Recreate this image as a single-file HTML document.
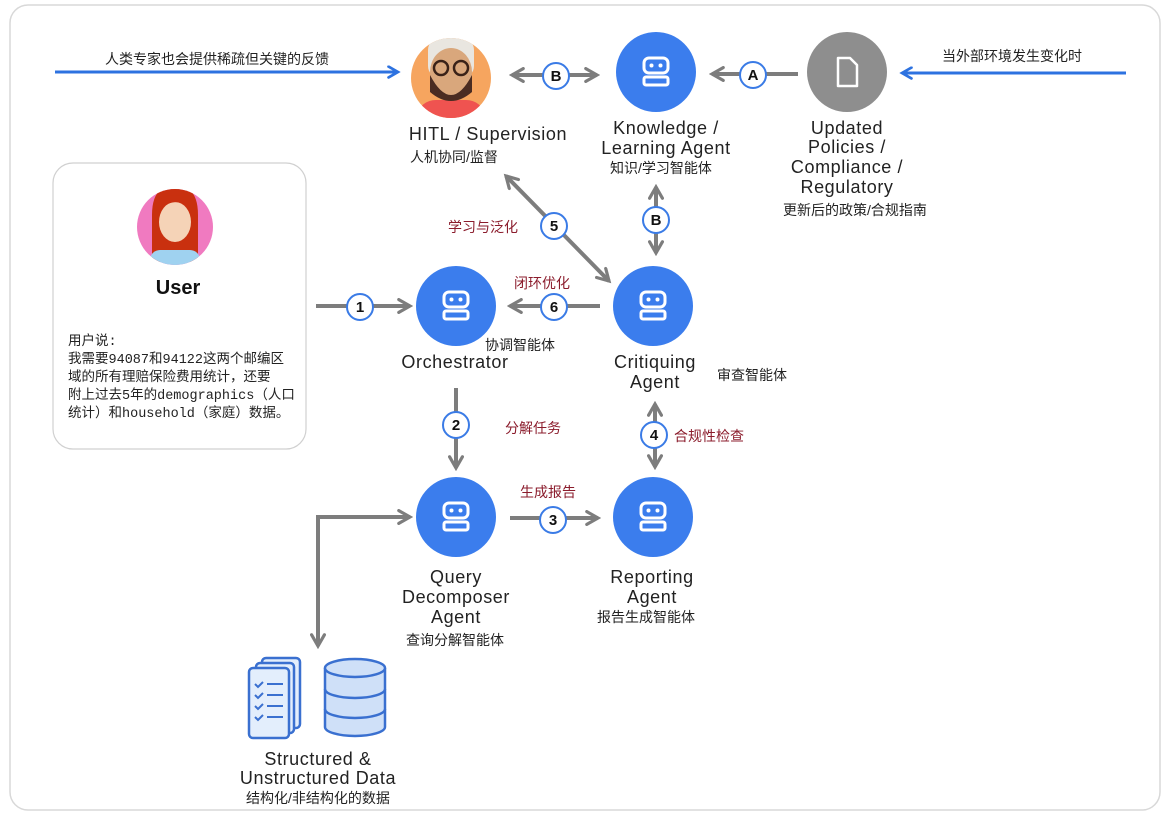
<!DOCTYPE html>
<html><head><meta charset="utf-8"><style>
html,body{margin:0;padding:0;background:#fff;}
svg{display:block;}
text{font-family:"Liberation Sans","Noto Sans CJK SC",sans-serif;}
.en{font-size:18px;fill:#222;letter-spacing:0.6px;}
.cn{font-size:14px;fill:#222;}
.red{font-size:14px;fill:#8b1c2c;}
.num{font-size:15px;fill:#111;font-weight:bold;text-anchor:middle;}
.mono{font-family:'Liberation Mono','Noto Sans CJK SC',monospace;font-size:13.5px;fill:#222;}
</style></head><body>
<svg width="1170" height="814" viewBox="0 0 1170 814">
<defs>
<marker id="ag" viewBox="0 0 10 10" refX="8" refY="5" markerWidth="4" markerHeight="4" orient="auto-start-reverse"><path d="M1,1 L8,5 L1,9" fill="none" stroke="#7d7d7d" stroke-width="2" stroke-linecap="round"/></marker>
<marker id="ab" viewBox="0 0 10 10" refX="8" refY="5" markerWidth="4.5" markerHeight="4.5" orient="auto-start-reverse"><path d="M1,1 L8,5 L1,9" fill="none" stroke="#2d72e0" stroke-width="2" stroke-linecap="round"/></marker>
<g id="bot"><rect x="-12" y="-14" width="24" height="15" rx="5" fill="none" stroke="#fff" stroke-width="3"/><circle cx="-4.5" cy="-6.5" r="2" fill="#fff"/><circle cx="4.5" cy="-6.5" r="2" fill="#fff"/><rect x="-12" y="5" width="24" height="8" rx="2" fill="none" stroke="#fff" stroke-width="3"/></g>
</defs>
<rect x="10" y="5" width="1150" height="805" rx="18" fill="#fff" stroke="#d8d8d8" stroke-width="1.5"/>

<line x1="55" y1="72" x2="398" y2="72" stroke="#2d72e0" stroke-width="3" marker-end="url(#ab)"/>
<text class="cn" x="217" y="64" text-anchor="middle" font-size="15">人类专家也会提供稀疏但关键的反馈</text>
<line x1="1126" y1="73" x2="902" y2="73" stroke="#2d72e0" stroke-width="3" marker-end="url(#ab)"/>
<text class="cn" x="1012" y="61" text-anchor="middle" font-size="15">当外部环境发生变化时</text>

<g stroke="#7d7d7d" stroke-width="4" fill="none">
<line x1="512" y1="75" x2="597" y2="75" marker-start="url(#ag)" marker-end="url(#ag)"/>
<line x1="798" y1="74" x2="712" y2="74" marker-end="url(#ag)"/>
<line x1="656" y1="187" x2="656" y2="253" marker-start="url(#ag)" marker-end="url(#ag)"/>
<line x1="506" y1="176" x2="609" y2="281" marker-start="url(#ag)" marker-end="url(#ag)"/>
<line x1="316" y1="306" x2="410" y2="306" marker-end="url(#ag)"/>
<line x1="600" y1="306" x2="510" y2="306" marker-end="url(#ag)"/>
<line x1="456" y1="388" x2="456" y2="468" marker-end="url(#ag)"/>
<line x1="510" y1="518" x2="598" y2="518" marker-end="url(#ag)"/>
<line x1="655" y1="404" x2="655" y2="467" marker-start="url(#ag)" marker-end="url(#ag)"/>
<polyline points="318,646 318,517 410,517" marker-start="url(#ag)" marker-end="url(#ag)"/>
</g>

<g fill="#fff" stroke="#3a7be6" stroke-width="2">
<circle cx="556" cy="76" r="13"/><circle cx="753" cy="75" r="13"/><circle cx="656" cy="220" r="13"/>
<circle cx="554" cy="226" r="13"/><circle cx="360" cy="307" r="13"/><circle cx="554" cy="307" r="13"/>
<circle cx="456" cy="425" r="13"/><circle cx="553" cy="520" r="13"/><circle cx="654" cy="435" r="13"/>
</g>
<text class="num" x="556" y="81">B</text><text class="num" x="753" y="80">A</text><text class="num" x="656" y="225">B</text>
<text class="num" x="554" y="231">5</text><text class="num" x="360" y="312">1</text><text class="num" x="554" y="312">6</text>
<text class="num" x="456" y="430">2</text><text class="num" x="553" y="525">3</text><text class="num" x="654" y="440">4</text>

<text class="red" x="483" y="232" text-anchor="middle">学习与泛化</text>
<text class="red" x="542" y="288" text-anchor="middle">闭环优化</text>
<text class="red" x="505" y="433">分解任务</text>
<text class="red" x="548" y="497" text-anchor="middle">生成报告</text>
<text class="red" x="674" y="441">合规性检查</text>

<circle cx="451" cy="78" r="40" fill="#f6a55f"/>
<clipPath id="hc"><circle cx="451" cy="78" r="40"/></clipPath>
<g clip-path="url(#hc)">
<rect x="418" y="100" width="66" height="30" rx="18" fill="#ef5350"/>
<rect x="428" y="38" width="46" height="40" rx="12" fill="#e9e6e0"/>
<ellipse cx="451" cy="72" rx="21" ry="24" fill="#d9a77c"/>
<path d="M430,75 Q451,115 472,75 L472,92 Q451,110 430,92Z" fill="#4a2c22"/>
<circle cx="441" cy="68" r="7" fill="none" stroke="#3a2218" stroke-width="2.5"/>
<circle cx="461" cy="68" r="7" fill="none" stroke="#3a2218" stroke-width="2.5"/>
</g>
<circle cx="656" cy="72" r="40" fill="#3b7ded"/><use href="#bot" x="656" y="72"/>
<circle cx="847" cy="72" r="40" fill="#8e8e8e"/>
<path d="M838,58 h12 l7,7 v21 h-19z" fill="none" stroke="#fff" stroke-width="2.5" stroke-linejoin="round"/>

<text class="en" x="488" y="140" text-anchor="middle">HITL / Supervision</text>
<text class="cn" x="410" y="162">人机协同/监督</text>
<text class="en" x="666" y="134" text-anchor="middle">Knowledge /</text>
<text class="en" x="666" y="154" text-anchor="middle">Learning Agent</text>
<text class="cn" x="610" y="173">知识/学习智能体</text>
<text class="en" x="847" y="134" text-anchor="middle">Updated</text>
<text class="en" x="847" y="153" text-anchor="middle">Policies /</text>
<text class="en" x="847" y="173" text-anchor="middle">Compliance /</text>
<text class="en" x="847" y="193" text-anchor="middle">Regulatory</text>
<text class="cn" x="855" y="215" text-anchor="middle">更新后的政策/合规指南</text>

<rect x="53" y="163" width="253" height="286" rx="20" fill="#fff" stroke="#d0d0d0" stroke-width="1.2"/>
<circle cx="175" cy="227" r="38" fill="#f07ac0"/>
<clipPath id="uc"><circle cx="175" cy="227" r="38"/></clipPath>
<g clip-path="url(#uc)">
<path d="M152,262 V215 Q152,185 175,185 Q198,185 198,215 V262Z" fill="#c9300f"/>
<rect x="150" y="250" width="50" height="20" rx="10" fill="#9fd2f0"/>
<ellipse cx="175" cy="222" rx="16" ry="20" fill="#f5d3b7"/>
<path d="M159,212 Q170,196 191,206 L191,200 Q175,190 159,200Z" fill="#c9300f"/>
</g>
<text x="178" y="294" text-anchor="middle" font-size="20" font-weight="bold" fill="#111">User</text>
<text class="mono" x="68" y="345">用户说:</text>
<text class="mono" x="68" y="363">我需要94087和94122这两个邮编区</text>
<text class="mono" x="68" y="381">域的所有理赔保险费用统计，还要</text>
<text class="mono" x="68" y="399">附上过去5年的demographics（人口</text>
<text class="mono" x="68" y="417">统计）和household（家庭）数据。</text>

<circle cx="456" cy="306" r="40" fill="#3b7ded"/><use href="#bot" x="456" y="306"/>
<circle cx="653" cy="306" r="40" fill="#3b7ded"/><use href="#bot" x="653" y="306"/>
<circle cx="456" cy="517" r="40" fill="#3b7ded"/><use href="#bot" x="456" y="517"/>
<circle cx="653" cy="517" r="40" fill="#3b7ded"/><use href="#bot" x="653" y="517"/>

<text class="cn" x="485" y="350">协调智能体</text>
<text class="en" x="455" y="368" text-anchor="middle">Orchestrator</text>
<text class="en" x="655" y="368" text-anchor="middle">Critiquing</text>
<text class="en" x="655" y="388" text-anchor="middle">Agent</text>
<text class="cn" x="717" y="380">审查智能体</text>
<text class="en" x="456" y="583" text-anchor="middle">Query</text>
<text class="en" x="456" y="603" text-anchor="middle">Decomposer</text>
<text class="en" x="456" y="623" text-anchor="middle">Agent</text>
<text class="cn" x="455" y="645" text-anchor="middle">查询分解智能体</text>
<text class="en" x="652" y="583" text-anchor="middle">Reporting</text>
<text class="en" x="652" y="603" text-anchor="middle">Agent</text>
<text class="cn" x="646" y="622" text-anchor="middle">报告生成智能体</text>

<g stroke="#3a70d0" stroke-width="2.5" fill="#e3eefc">
<rect x="262" y="658" width="38" height="70" rx="4"/>
<rect x="256" y="663" width="38" height="70" rx="4"/>
<rect x="249" y="668" width="40" height="70" rx="4"/>
</g>
<g stroke="#3a70d0" stroke-width="2" fill="none">
<path d="M255,684 l3,3 5,-5 M267,684 h16 M255,695 l3,3 5,-5 M267,695 h16 M255,706 l3,3 5,-5 M267,706 h16 M255,717 l3,3 5,-5 M267,717 h16"/>
</g>
<g stroke="#3a70d0" stroke-width="2.5" fill="#cfe0f8">
<path d="M325,668 V727 A30,9 0 0 0 385,727 V668"/>
<ellipse cx="355" cy="668" rx="30" ry="9"/>
<path d="M325,689 A30,9 0 0 0 385,689 M325,709 A30,9 0 0 0 385,709" fill="none"/>
</g>
<text class="en" x="318" y="765" text-anchor="middle">Structured &amp;</text>
<text class="en" x="318" y="784" text-anchor="middle">Unstructured Data</text>
<text class="cn" x="318" y="803" text-anchor="middle">结构化/非结构化的数据</text>
</svg>
</body></html>
